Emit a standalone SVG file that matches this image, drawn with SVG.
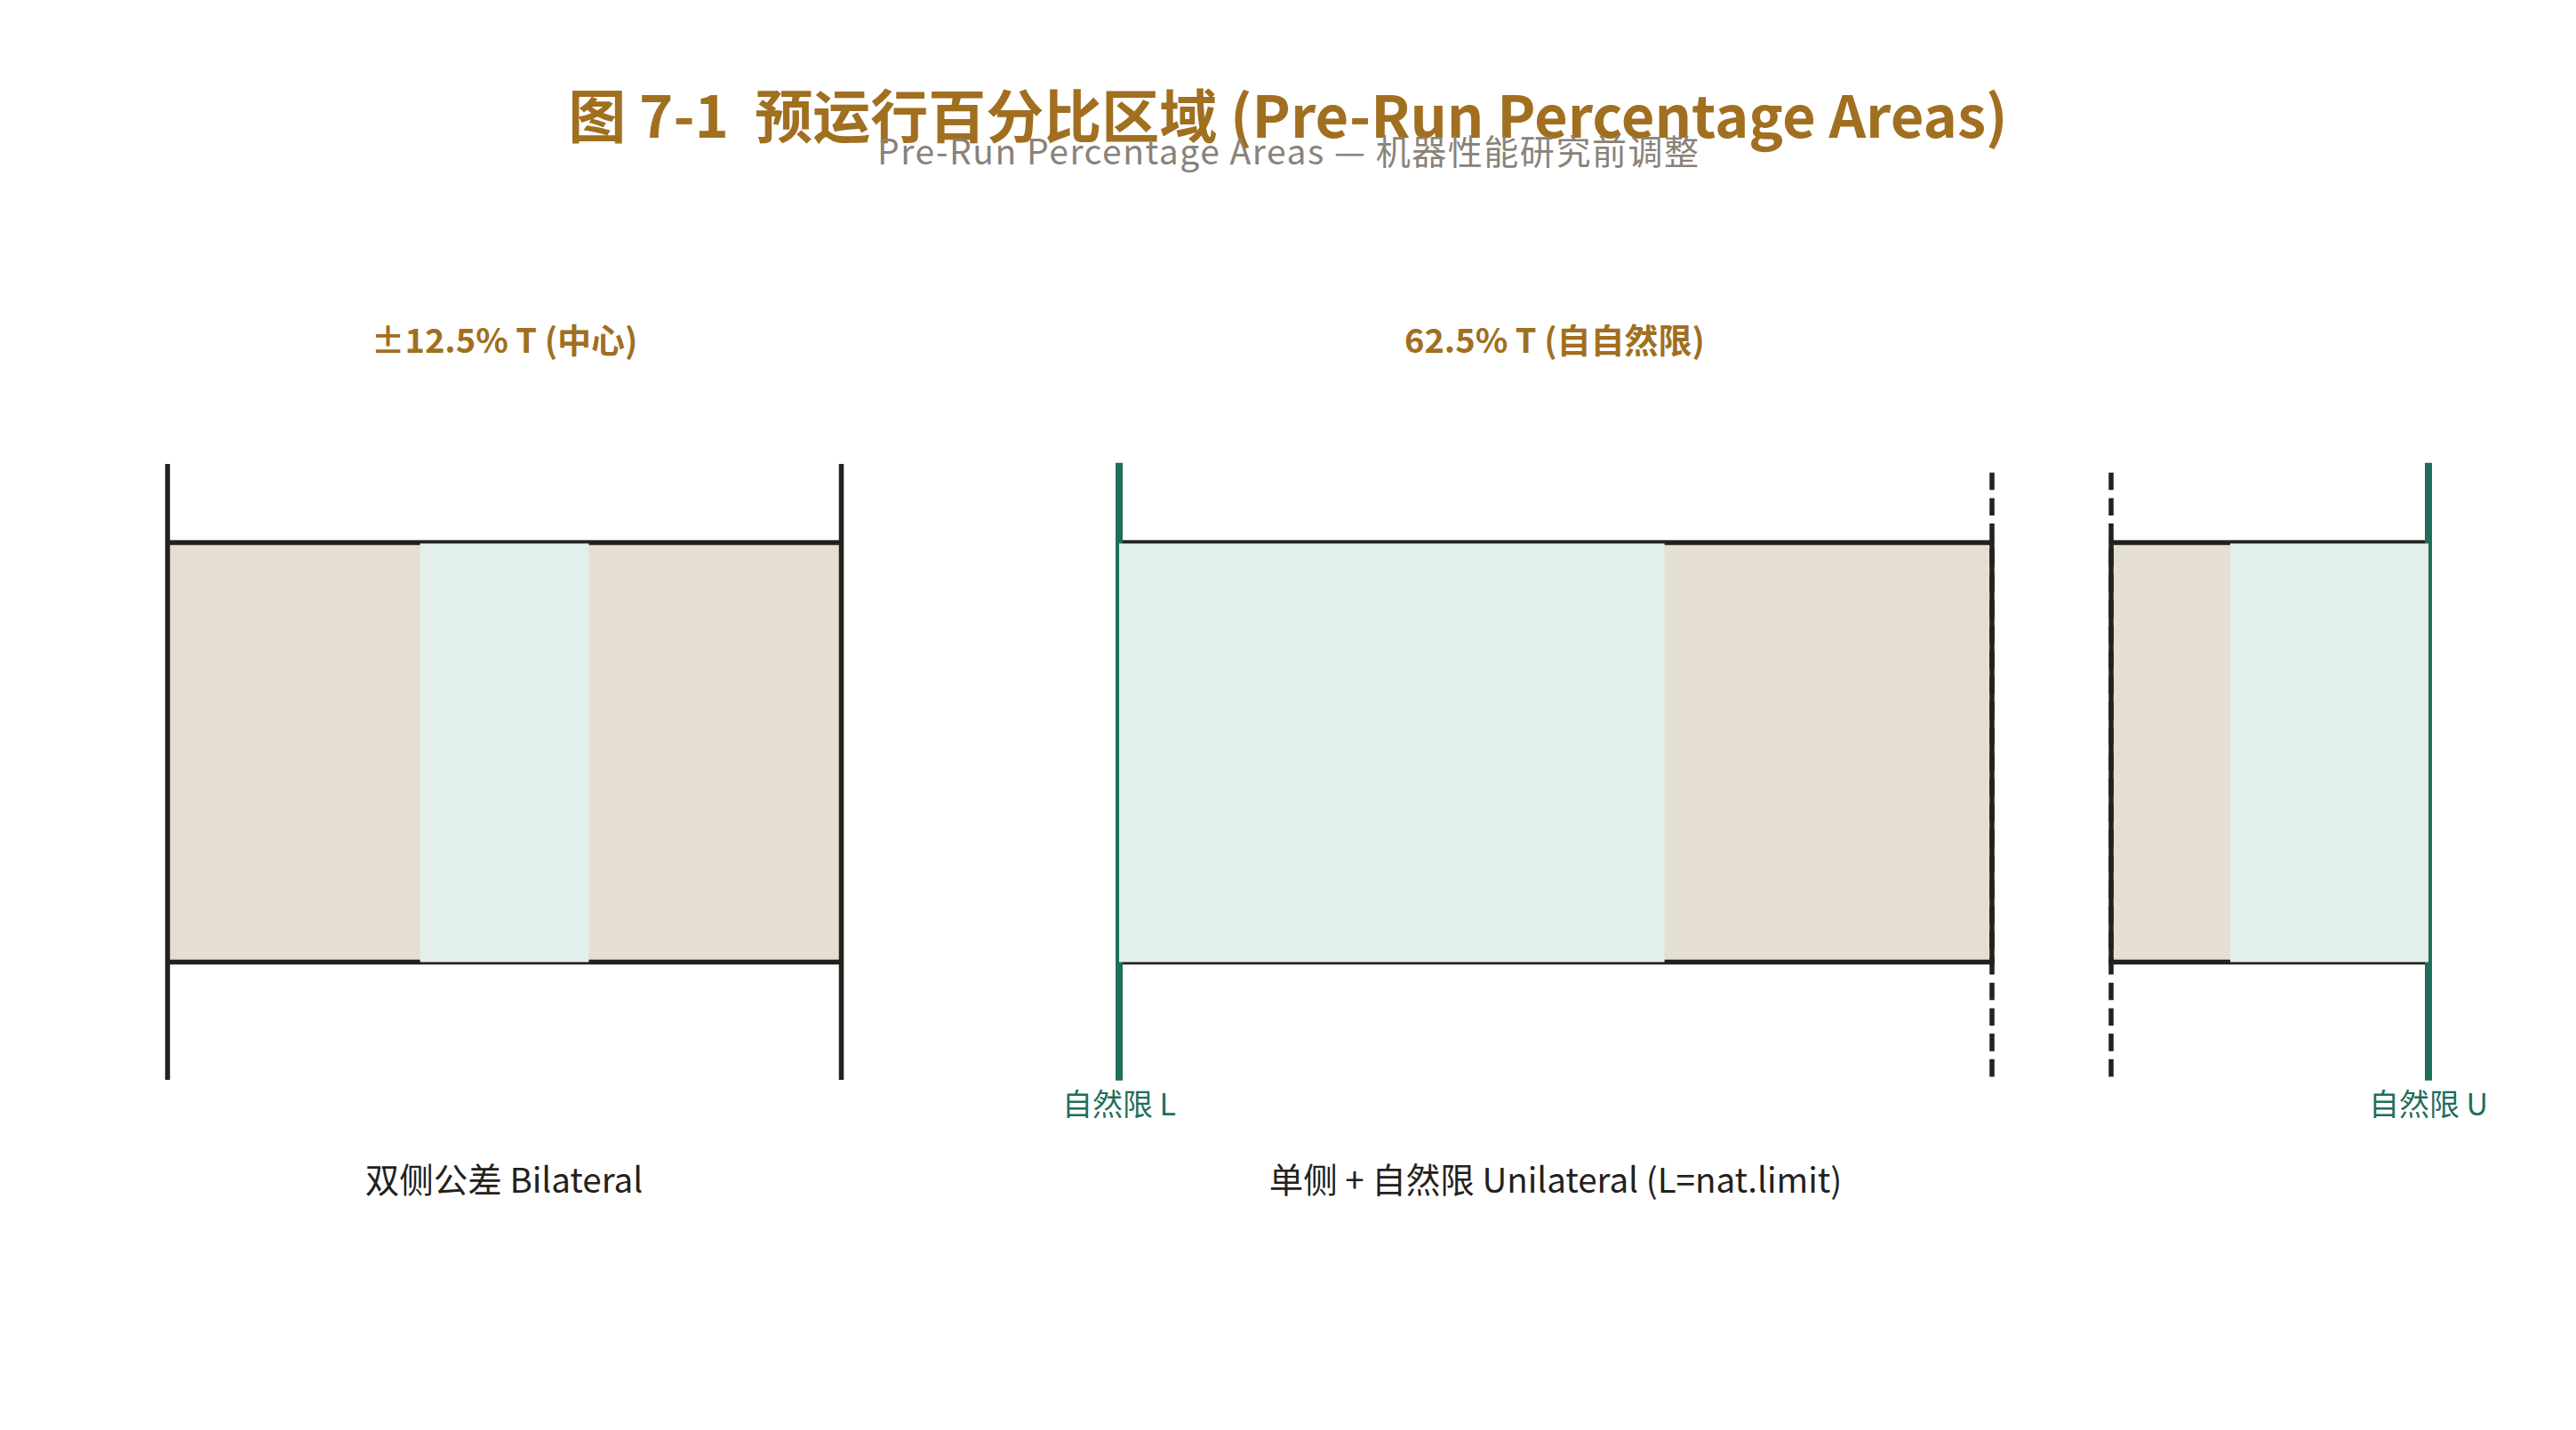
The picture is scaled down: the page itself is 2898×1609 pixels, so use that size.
<svg xmlns="http://www.w3.org/2000/svg" width="2898" height="1609" viewBox="0 0 2898 1609">
<style>
text{font-family:"Noto Sans CJK SC","Noto Sans",sans-serif;text-anchor:middle}
.title{font-size:65px;font-weight:700;fill:#A06F20;white-space:pre}
.sub{font-size:39px;fill:#8A8279}
.sec{font-size:38px;font-weight:700;fill:#A06F20}
.lab{font-size:38.5px;fill:#24211C}
.nat{font-size:34px;fill:#1F6E5B}
.beige{fill:#E5DFD3}
.mint{fill:#E2EFEA}
.bar{stroke:#24211C;stroke-width:5.5;fill:none}
.tick{stroke:#24211C;stroke-width:5.5}
.dash{stroke:#24211C;stroke-width:5.5;stroke-dasharray:19.6 9.1}
.gtick{stroke:#1F6E5B;stroke-width:8}
</style>
<rect width="2898" height="1609" fill="#FFFFFF"/>
<g id="header">
<text class="title" x="1449" y="155" xml:space="preserve">图 7-1  预运行百分比区域 (Pre-Run Percentage Areas)</text>
<text class="sub" x="1449" y="185" textLength="924" lengthAdjust="spacing">Pre-Run Percentage Areas — 机器性能研究前调整</text>
</g>
<g id="bilateral">
<text class="sec" x="567.5" y="397">±12.5% T (中心)</text>
<rect class="beige" x="188.5" y="610.5" width="758" height="472"/>
<line class="bar" x1="188.5" y1="610.5" x2="946.5" y2="610.5"/>
<line class="bar" x1="188.5" y1="1082.5" x2="946.5" y2="1082.5"/>
<rect class="mint" x="472.6" y="611.5" width="189.8" height="471"/>
<text class="lab" x="567" y="1342">双侧公差 Bilateral</text>
</g>
<g id="unilateral">
<text class="sec" x="1749" y="397">62.5% T (自自然限)</text>
<rect class="beige" x="1259" y="610.5" width="982" height="472"/>
<line class="bar" x1="1259" y1="610.5" x2="2241" y2="610.5"/>
<line class="bar" x1="1259" y1="1082.5" x2="2241" y2="1082.5"/>
<line class="tick" x1="2241" y1="608" x2="2241" y2="1085"/>
<rect class="beige" x="2375" y="610.5" width="357" height="472"/>
<line class="bar" x1="2375" y1="610.5" x2="2732" y2="610.5"/>
<line class="bar" x1="2375" y1="1082.5" x2="2732" y2="1082.5"/>
<line class="tick" x1="2375" y1="608" x2="2375" y2="1085"/>
<text class="lab" x="1750" y="1342">单侧 + 自然限 Unilateral (L=nat.limit)</text>
<text class="nat" x="1259" y="1255">自然限 L</text>
<text class="nat" x="2732" y="1255">自然限 U</text>
</g>
<g id="connectors">
<line class="tick" x1="188.5" y1="522" x2="188.5" y2="1215"/>
<line class="tick" x1="946.5" y1="522" x2="946.5" y2="1215"/>
<line class="dash" x1="2241" y1="531.7" x2="2241" y2="1212.5"/>
<line class="dash" x1="2375" y1="531.7" x2="2375" y2="1212.5"/>
<line class="gtick" x1="1259" y1="520.7" x2="1259" y2="1215.7"/>
<line class="gtick" x1="2732" y1="520.7" x2="2732" y2="1215.7"/>
</g>
<g id="limits">
<rect class="mint" x="1259" y="611.5" width="613.6" height="471"/>
<rect class="mint" x="2509" y="611.5" width="223" height="471"/>
</g>
</svg>
